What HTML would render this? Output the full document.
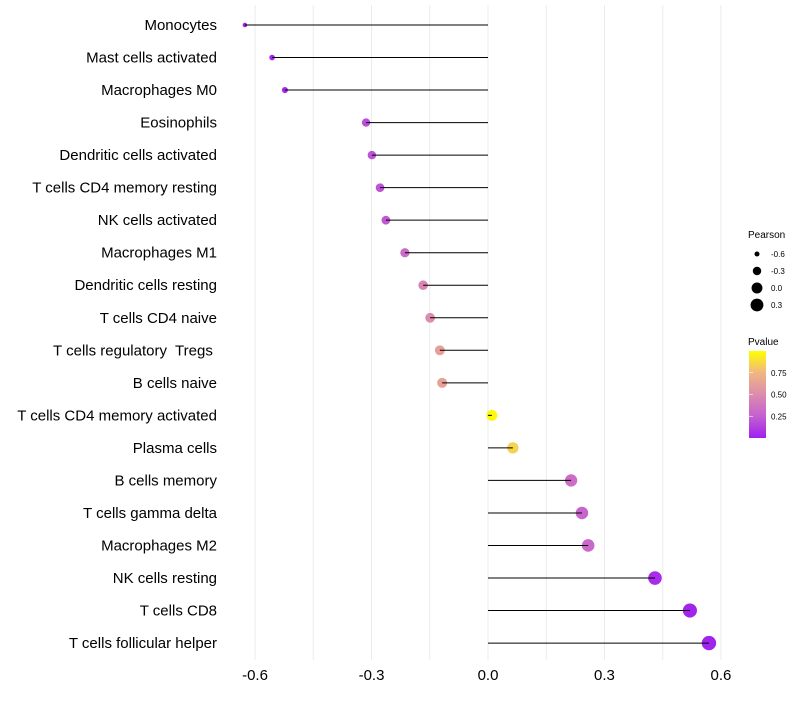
<!DOCTYPE html>
<html><head><meta charset="utf-8"><style>
body{margin:0;background:#fff;}
svg text{font-family:"Liberation Sans",sans-serif;white-space:pre;}
</style></head><body>
<svg id="chart" width="800" height="700">
<defs><linearGradient id="pg" x1="0" y1="1" x2="0" y2="0">
<stop offset="0" stop-color="#A020F0"/><stop offset="0.25" stop-color="#C460D0"/><stop offset="0.5" stop-color="#DC8CAC"/><stop offset="0.75" stop-color="#F0B682"/><stop offset="1" stop-color="#FFFF00"/></linearGradient></defs>
<g id="grid"></g><g id="marks"></g><g id="ylabels"></g><g id="xlabels"></g>
<g>
<text x="748" y="238" font-size="10">Pearson</text>
<g id="sizeLegend"></g>
<text x="748" y="345" font-size="10">Pvalue</text>
<rect x="749" y="351" width="17" height="87" fill="url(#pg)"/>
<g id="colorTicks"></g>
</g>
</svg>
<script>
const categories=["Monocytes","Mast cells activated","Macrophages M0","Eosinophils","Dendritic cells activated","T cells CD4 memory resting","NK cells activated","Macrophages M1","Dendritic cells resting","T cells CD4 naive","T cells regulatory  Tregs ","B cells naive","T cells CD4 memory activated","Plasma cells","B cells memory","T cells gamma delta","Macrophages M2","NK cells resting","T cells CD8","T cells follicular helper"];
const pearson=[-0.626,-0.556,-0.523,-0.314,-0.299,-0.278,-0.263,-0.214,-0.167,-0.149,-0.124,-0.118,0.010,0.064,0.214,0.242,0.258,0.430,0.520,0.569];
const pvalues=[0.0,0.02,0.03,0.18,0.2,0.2,0.22,0.32,0.45,0.5,0.62,0.63,0.98,0.85,0.32,0.28,0.3,0.05,0.02,0.01];
const xTicks=[-0.6,-0.3,0.0,0.3,0.6];
const xTickLabels=["-0.6","-0.3","0.0","0.3","0.6"];
const xGrid=[-0.6,-0.45,-0.3,-0.15,0,0.15,0.3,0.45,0.6];
const sizeLegendVals=[-0.6,-0.3,0.0,0.3];
const colorLegendVals=[0.25,0.5,0.75];

const NS="http://www.w3.org/2000/svg";
const x=v=>488+v*388.3;
const y=i=>25+i*32.53;
const rad=v=>Math.sqrt(Math.max(3,30+(v-0.01)*39));
const cy=p=>438-p*87;
function lerp(a,b,t){return Math.round(a+(b-a)*t);}
function col(p){
  const s=[[160,32,240],[196,96,208],[220,140,172],[240,182,130],[255,255,0]];
  const k=Math.min(3,Math.floor(p*4)); const t=p*4-k;
  const a=s[k],b=s[k+1];
  return `rgb(${lerp(a[0],b[0],t)},${lerp(a[1],b[1],t)},${lerp(a[2],b[2],t)})`;
}
function mk(tag,attrs,parent){const e=document.createElementNS(NS,tag);for(const k in attrs)e.setAttribute(k,attrs[k]);document.getElementById(parent).appendChild(e);return e;}
xGrid.forEach(v=>{
  const l=mk("line",{x1:x(v),x2:x(v),y1:5,y2:660,stroke:"#ebebeb","stroke-width":1},"grid");
  
  
});
categories.forEach((c,i)=>{
  const v=pearson[i];
  const pt=mk("circle",{cx:x(v),cy:y(i),r:rad(v),fill:col(pvalues[i])},"marks");
  
  
  const ln=mk("line",{x1:x(0),x2:x(v),y1:y(i),y2:y(i),stroke:"#000","stroke-width":1},"marks");
  
  
  const t=mk("text",{x:217,y:y(i)+5,"text-anchor":"end","font-size":15,fill:"#000"},"ylabels");
  t.textContent=c;
  
  
});
xTicks.forEach((v,i)=>{
  const t=mk("text",{x:x(v),y:680,"text-anchor":"middle","font-size":15,fill:"#000"},"xlabels");
  t.textContent=xTickLabels[i];
  
  
});
sizeLegendVals.forEach((v,i)=>{
  const yy=254+i*17;
  const c=mk("circle",{cx:757,cy:yy,r:rad(v),fill:"#000"},"sizeLegend");
  
  
  const t=mk("text",{x:771,y:yy+3,"font-size":8},"sizeLegend");
  t.textContent=v.toFixed(1);
  
  
});
colorLegendVals.forEach(v=>{
  const l=mk("line",{x1:749,x2:753,y1:cy(v),y2:cy(v),stroke:"#fff","stroke-width":0.6},"colorTicks");
  
  
  const t=mk("text",{x:771,y:cy(v)+3,"font-size":8},"colorTicks");
  t.textContent=v.toFixed(2);
  
  
});
</script>
</body></html>
